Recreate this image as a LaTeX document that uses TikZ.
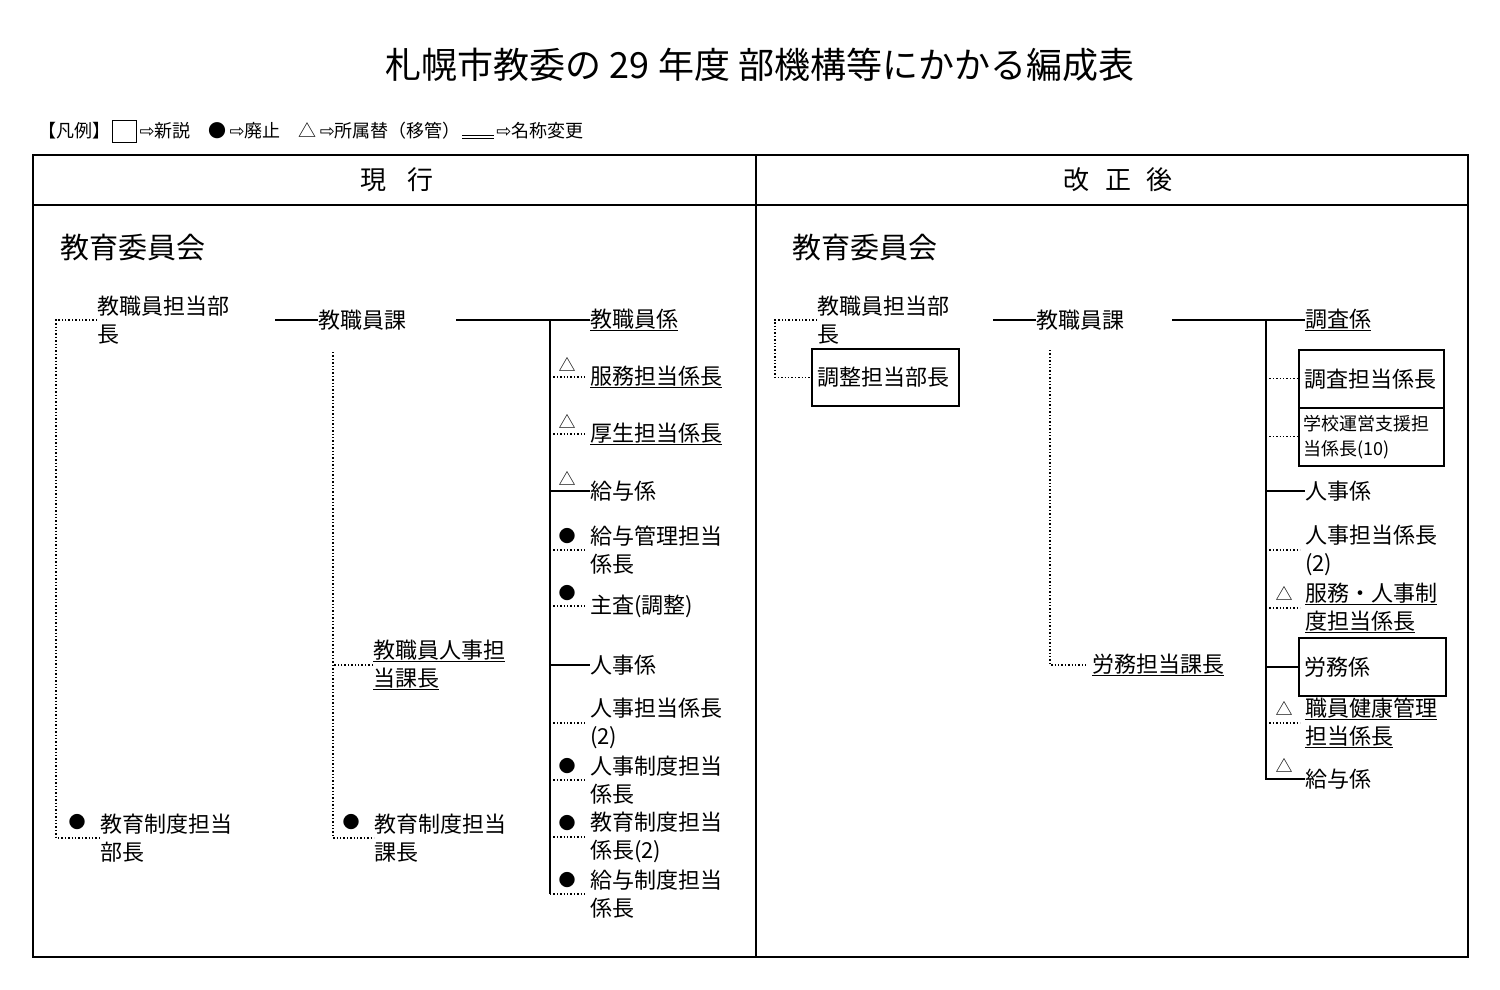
\documentclass[tikz,border=0pt]{standalone}
\usepackage{fontspec}
\setmainfont{Noto Sans CJK JP}
\newfontfamily\symfont{DejaVu Sans}
\usetikzlibrary{positioning}

\newcommand\ulx[1]{\underline{#1}}

\tikzset{
  lbl/.style={anchor=west,inner sep=0pt,align=left,font=\fontsize{22}{28}\selectfont},
  sym/.style={inner sep=0pt,font=\fontsize{17}{17}\selectfont},
  newbox/.style={draw,line width=1.5pt,inner sep=0pt},
  solidln/.style={line width=1.6pt},
  dotln/.style={dotted,line width=1.4pt},
}

\begin{document}
\begin{tikzpicture}[x=1pt,y=-1pt]
\useasboundingbox (0,0) rectangle (1500,990);

% title and legend
\node (title) at (760,65) {\fontsize{36}{40}\selectfont 札幌市教委の 29 年度 部機構等にかかる編成表};
\node[lbl,font=\fontsize{18}{20}\selectfont] (lg1) at (38,131) {【凡例】};
\node[draw,line width=1pt,minimum width=24,minimum height=22,inner sep=0pt,right=2 of lg1] (lgbox) {};
\node[lbl,font=\fontsize{18}{20}\selectfont,right=2 of lgbox] (lg2)
  {{\symfont ⇨}新説\quad ●\,{\symfont ⇨}廃止\quad △\,{\symfont ⇨}所属替（移管）};
\node[inner sep=0pt,minimum width=32,minimum height=0pt,right=1 of lg2,yshift=-6] (lgdbl) {};
\node[lbl,font=\fontsize{18}{20}\selectfont,right=1 of lg2] (lg3) {\hspace{34pt}{\symfont ⇨}名称変更};
\draw[line width=1pt] ([yshift=-1.5]lgdbl.west) -- ([yshift=-1.5]lgdbl.east)
                      ([yshift=1.5]lgdbl.west) -- ([yshift=1.5]lgdbl.east);

% frame
\draw[line width=2.4pt] (33,155) rectangle (1468,957);
\draw[line width=2.4pt] (33,205) -- (1468,205);
\draw[line width=2.4pt] (756,155) -- (756,957);
\node[font=\fontsize{26}{28}\selectfont] (hdL) at (397,180) {現\hspace{0.8em}行};
\node[font=\fontsize{26}{28}\selectfont] (hdR) at (1118,180) {改\hspace{0.6em}正\hspace{0.6em}後};
\node[lbl,font=\fontsize{29}{32}\selectfont] (boardL) at (60,248) {教育委員会};
\node[lbl,font=\fontsize{29}{32}\selectfont] (boardR) at (792,248) {教育委員会};

% ---------- current ----------
\coordinate (busA) at (56,320);
\coordinate (busB) at (333,352);
\coordinate (busC) at (550,320);

\node[lbl] (dirL) at (97,320) {教職員担当部\\長};
\node[lbl] (eduDir) at (100,838) {教育制度担当\\部長};
\node[sym] at (77,822) {●};
\node[lbl] (secL) at (318,320) {教職員課};
\node[lbl] (persMgr) at (373,665) {\ulx{教職員人事担}\\\ulx{当課長}};
\node[lbl] (eduMgr) at (374,838) {教育制度担当\\課長};
\node[sym] at (351,822) {●};

\node[lbl] (c1) at (590,320) {\ulx{教職員係}};
\node[lbl] (c2) at (590,377) {\ulx{服務担当係長}};
\node[lbl] (c3) at (590,434) {\ulx{厚生担当係長}};
\node[lbl] (c4) at (590,491) {給与係};
\node[lbl] (c5) at (590,550) {給与管理担当\\係長};
\node[lbl] (c6) at (590,606) {主査(調整)};
\node[lbl] (c7) at (590,665) {人事係};
\node[lbl] (c8) at (590,723) {人事担当係長\\(2)};
\node[lbl] (c9) at (590,780) {人事制度担当\\係長};
\node[lbl] (c10) at (590,837) {教育制度担当\\係長(2)};
\node[lbl] (c11) at (590,894) {給与制度担当\\係長};
\foreach \y in {364,421,478} \node[sym] at (567,\y) {△};
\foreach \y in {536,593,766,823,880} \node[sym] at (567,\y) {●};

\draw[dotln] (dirL.west) -- ++(-41,0) |- (eduDir.west);
\draw[solidln] (275,320) -- (secL.west);
\draw[dotln] (busB) |- (eduMgr.west);
\draw[dotln] (persMgr.west) -- (persMgr.west -| busB);
\draw[solidln] (456,320) -- (c1.west);
\draw[solidln] (busC) -- (c11.west -| busC);
\foreach \c in {c4,c7} \draw[solidln] (\c.west -| busC) -- (\c.west);
\foreach \c in {c2,c3,c5,c6,c8,c9,c10,c11} \draw[dotln] (\c.west -| busC) -- ([xshift=-3]\c.west);

% ---------- revised ----------
\coordinate (busD) at (1050,350);
\coordinate (busE) at (1266,320);

\node[lbl] (dirR) at (817,320) {教職員担当部\\長};
\node[newbox,anchor=north west,minimum width=147,minimum height=57] (adjDir) at (811,348) {};
\node[lbl] at ([xshift=6]adjDir.west) {調整担当部長};
\node[lbl] (secR) at (1036,320) {教職員課};
\node[lbl] (labMgr) at (1092,665) {\ulx{労務担当課長}};

\node[lbl] (r1) at (1305,320) {\ulx{調査係}};
\node[newbox,anchor=north west,minimum width=145,minimum height=58] (r2) at (1298,349) {};
\node[lbl] at ([xshift=6]r2.west) {調査担当係長};
\node[newbox,anchor=north west,minimum width=145,minimum height=58] (r3) at (1298,407) {};
\node[lbl,font=\fontsize{18}{25}\selectfont] at ([xshift=5]r3.west) {学校運営支援担\\当係長(10)};
\node[lbl] (r4) at (1305,491) {人事係};
\node[lbl] (r5) at (1305,550) {人事担当係長\\(2)};
\node[lbl] (r6) at (1305,608) {\ulx{服務・人事制}\\\ulx{度担当係長}};
\node[newbox,anchor=north west,minimum width=147,minimum height=58] (r7) at (1298,637) {};
\node[lbl] at ([xshift=6]r7.west) {労務係};
\node[lbl] (r8) at (1305,723) {\ulx{職員健康管理}\\\ulx{担当係長}};
\node[lbl] (r9) at (1305,779) {給与係};
\foreach \y in {593,708,765} \node[sym] at (1284,\y) {△};

\draw[dotln] (dirR.west) -- ++(-42,0) |- (adjDir.west);
\draw[solidln] (993,320) -- (secR.west);
\draw[dotln] (busD) |- ([xshift=-6]labMgr.west);
\draw[solidln] (1172,320) -- (r1.west);
\draw[solidln] (busE) -- (r9.west -| busE) -- (r9.west);
\foreach \c in {r4,r7} \draw[solidln] (\c.west -| busE) -- (\c.west);
\foreach \c in {r2,r3} \draw[dotln] (\c.west -| busE) -- (\c.west);
\foreach \c in {r5,r6,r8} \draw[dotln] (\c.west -| busE) -- ([xshift=-5]\c.west);

\end{tikzpicture}
\end{document}
